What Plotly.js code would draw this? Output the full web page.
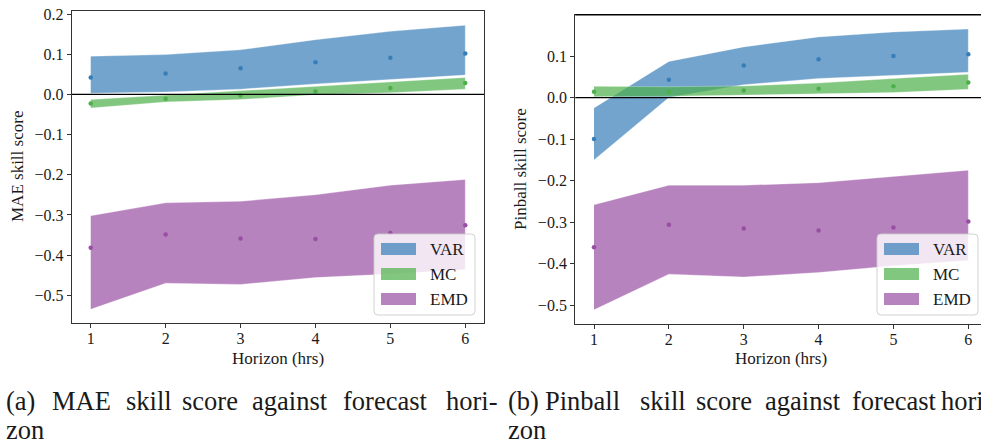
<!DOCTYPE html>
<html><head><meta charset="utf-8">
<script src="https://cdn.plot.ly/plotly-3.0.1.min.js"></script>
<style>html,body{margin:0;padding:0;overflow:hidden;background:#fff}#chart{width:1000px;height:447px}</style>
</head><body><div id="chart"></div>
<script>
// ---------------- data ----------------
const horizons = [1, 2, 3, 4, 5, 6];
const seriesNames = ['VAR', 'MC', 'EMD'];
const seriesColors = ['#377eb8', '#4daf4a', '#984ea3'];
const seriesFills = ['rgba(55,126,184,0.7)', 'rgba(77,175,74,0.7)', 'rgba(152,78,163,0.7)'];

// (a) MAE skill score
const maeVarMedian = [0.042, 0.052, 0.065, 0.080, 0.091, 0.102];
const maeVarUpper  = [0.095, 0.099, 0.111, 0.136, 0.157, 0.172];
const maeVarLower  = [0.003, 0.006, 0.013, 0.026, 0.037, 0.048];
const maeMcMedian  = [-0.023, -0.011, -0.003, 0.007, 0.016, 0.028];
const maeMcUpper   = [-0.013, -0.002, 0.010, 0.021, 0.031, 0.042];
const maeMcLower   = [-0.034, -0.019, -0.013, -0.001, 0.004, 0.013];
const maeEmdMedian = [-0.382, -0.349, -0.359, -0.360, -0.345, -0.326];
const maeEmdUpper  = [-0.302, -0.270, -0.266, -0.250, -0.226, -0.212];
const maeEmdLower  = [-0.535, -0.470, -0.473, -0.456, -0.447, -0.436];

// (b) Pinball skill score
const pinVarMedian = [-0.100, 0.043, 0.077, 0.092, 0.100, 0.104];
const pinVarUpper  = [-0.025, 0.087, 0.122, 0.146, 0.158, 0.165];
const pinVarLower  = [-0.150, 0.000, 0.031, 0.046, 0.054, 0.061];
const pinMcMedian  = [0.014, 0.014, 0.017, 0.021, 0.027, 0.036];
const pinMcUpper   = [0.027, 0.026, 0.028, 0.035, 0.046, 0.056];
const pinMcLower   = [0.002, 0.003, 0.006, 0.009, 0.012, 0.020];
const pinEmdMedian = [-0.360, -0.306, -0.315, -0.320, -0.313, -0.298];
const pinEmdUpper  = [-0.258, -0.211, -0.211, -0.205, -0.190, -0.175];
const pinEmdLower  = [-0.511, -0.425, -0.432, -0.421, -0.405, -0.392];

const yTickVals = [-0.5, -0.4, -0.3, -0.2, -0.1, 0.0, 0.1, 0.2];

const captionA1 = ['(a)', 'MAE', 'skill', 'score', 'against', 'forecast', 'hori-'];
const captionB1 = ['(b)', 'Pinball', 'skill', 'score', 'against', 'forecast', 'hori-'];
const captionLine2 = 'zon';

// ---------------- layout helpers ----------------
const W = 1000, H = 447;
const px = x => x / W;
const py = y => 1 - y / H;
const FONT = "'Liberation Serif', 'Times New Roman', 'DejaVu Serif', serif";
const TXT = '#1a1a1a';

function panelTraces(groups, xa, ya) {
  const out = [];
  groups.forEach((g, i) => {
    out.push({
      type: 'scatter', mode: 'lines', xaxis: xa, yaxis: ya,
      x: horizons.concat(horizons.slice().reverse()),
      y: g.upper.concat(g.lower.slice().reverse()),
      fill: 'toself', fillcolor: seriesFills[i],
      line: {width: 0.6, color: 'rgba(255,255,255,0.5)'},
      name: seriesNames[i], showlegend: false, hoverinfo: 'skip'
    });
  });
  groups.forEach((g, i) => {
    out.push({
      type: 'scatter', mode: 'markers', xaxis: xa, yaxis: ya,
      x: horizons, y: g.median,
      marker: {size: 4.5, color: seriesColors[i]},
      name: seriesNames[i], showlegend: false
    });
  });
  return out;
}

const traces = panelTraces([
  {median: maeVarMedian, upper: maeVarUpper, lower: maeVarLower},
  {median: maeMcMedian, upper: maeMcUpper, lower: maeMcLower},
  {median: maeEmdMedian, upper: maeEmdUpper, lower: maeEmdLower}
], 'x', 'y').concat(panelTraces([
  {median: pinVarMedian, upper: pinVarUpper, lower: pinVarLower},
  {median: pinMcMedian, upper: pinMcUpper, lower: pinMcLower},
  {median: pinEmdMedian, upper: pinEmdUpper, lower: pinEmdLower}
], 'x2', 'y2'));

function xAxis(domain, anchor) {
  return {
    domain: domain, anchor: anchor, range: [0.75, 6.25],
    tickvals: horizons, ticks: 'outside', ticklen: 4, tickwidth: 1, tickcolor: '#333',
    ticklabelstandoff: -3,
    showline: true, linecolor: '#333', linewidth: 1.2, mirror: true,
    showgrid: false, zeroline: false,
    tickfont: {family: FONT, size: 16, color: TXT}
  };
}
function yAxis(domain, anchor, range) {
  return {
    domain: domain, anchor: anchor, range: range,
    tickvals: yTickVals, tickformat: '.1f', ticks: 'outside', ticklen: 4, tickwidth: 1, tickcolor: '#333',
    showline: true, linecolor: '#333', linewidth: 1.2, mirror: true,
    showgrid: false, zeroline: false,
    tickfont: {family: FONT, size: 16, color: TXT}
  };
}

const shapes = [
  {type: 'line', xref: 'x domain', yref: 'y', x0: 0, x1: 1, y0: 0, y1: 0, line: {color: '#000', width: 1.3}, layer: 'above'},
  {type: 'line', xref: 'x2 domain', yref: 'y2', x0: 0, x1: 1, y0: 0, y1: 0, line: {color: '#000', width: 1.3}, layer: 'above'},
  {type: 'line', xref: 'x2 domain', yref: 'y2 domain', x0: 0, x1: 1, y0: 1, y1: 1, line: {color: '#000', width: 1.4}, layer: 'above'}
];
const annotations = [];

// legends (one per panel)
function roundedRect(x0, y0, x1, y1, r) {
  const X = v => px(v), Y = v => py(v);
  return `M${X(x0 + r)},${Y(y0)} L${X(x1 - r)},${Y(y0)} Q${X(x1)},${Y(y0)} ${X(x1)},${Y(y0 + r)} ` +
         `L${X(x1)},${Y(y1 - r)} Q${X(x1)},${Y(y1)} ${X(x1 - r)},${Y(y1)} L${X(x0 + r)},${Y(y1)} ` +
         `Q${X(x0)},${Y(y1)} ${X(x0)},${Y(y1 - r)} L${X(x0)},${Y(y0 + r)} Q${X(x0)},${Y(y0)} ${X(x0 + r)},${Y(y0)} Z`;
}
function addLegend(left, top) {
  shapes.push({type: 'path', xref: 'paper', yref: 'paper', path: roundedRect(left, top, left + 101, top + 81, 4),
    fillcolor: 'rgba(255,255,255,0.8)', line: {color: 'rgba(204,204,204,0.9)', width: 1}, layer: 'above'});
  seriesNames.forEach((n, i) => {
    const cy = top + 15 + i * 25;
    shapes.push({type: 'rect', xref: 'paper', yref: 'paper', x0: px(left + 7), x1: px(left + 42),
      y0: py(cy - 6), y1: py(cy + 6), fillcolor: seriesFills[i], line: {width: 0}, layer: 'above'});
    annotations.push({xref: 'paper', yref: 'paper', x: px(left + 54), y: py(cy), xanchor: 'left', yanchor: 'middle',
      text: n, showarrow: false, font: {family: FONT, size: 17, color: TXT}});
  });
}
addLegend(374, 234);
addLegend(877, 234);

// axis titles
annotations.push(
  {xref: 'paper', yref: 'paper', x: px(17), y: py(167), text: 'MAE skill score', textangle: -90, showarrow: false,
   xanchor: 'center', yanchor: 'middle', font: {family: FONT, size: 17, color: TXT}},
  {xref: 'paper', yref: 'paper', x: px(521), y: py(169), text: 'Pinball skill score', textangle: -90, showarrow: false,
   xanchor: 'center', yanchor: 'middle', font: {family: FONT, size: 17, color: TXT}},
  {xref: 'paper', yref: 'paper', x: px(278), y: py(358), text: 'Horizon (hrs)', showarrow: false,
   xanchor: 'center', yanchor: 'middle', font: {family: FONT, size: 17, color: TXT}},
  {xref: 'paper', yref: 'paper', x: px(781), y: py(358), text: 'Horizon (hrs)', showarrow: false,
   xanchor: 'center', yanchor: 'middle', font: {family: FONT, size: 17, color: TXT}}
);

// captions: word positions as in the typeset reference
const CAP = 26.5;
const capAx = [4, 50, 124, 180, 250, 341, 444];
const capBx = [506, 543, 638, 694, 763, 850, 939];
function capText(t, x, y) {
  annotations.push({xref: 'paper', yref: 'paper', x: px(x), y: py(y), text: t, showarrow: false,
    xanchor: 'left', yanchor: 'middle', font: {family: FONT, size: CAP, color: TXT}});
}
captionA1.forEach((w, i) => capText(w, capAx[i], 401));
captionB1.forEach((w, i) => capText(w, capBx[i], 401));
capText(captionLine2, 4, 429.5);
capText(captionLine2, 506, 429.5);

const layout = {
  width: W, height: H, margin: {l: 0, r: 0, t: 0, b: 0},
  paper_bgcolor: '#fff', plot_bgcolor: '#fff', showlegend: false,
  font: {family: FONT, color: TXT},
  xaxis: xAxis([px(72), px(484)], 'y'),
  yaxis: yAxis([py(323), py(11)], 'x', [-0.569, 0.2075]),
  xaxis2: xAxis([px(575.3), px(987)], 'y2'),
  yaxis2: yAxis([py(323.7), py(14.7)], 'x2', [-0.5443, 0.1995]),
  shapes: shapes, annotations: annotations
};

Plotly.newPlot('chart', traces, layout, {staticPlot: true, displayModeBar: false});
</script>
</body></html>
